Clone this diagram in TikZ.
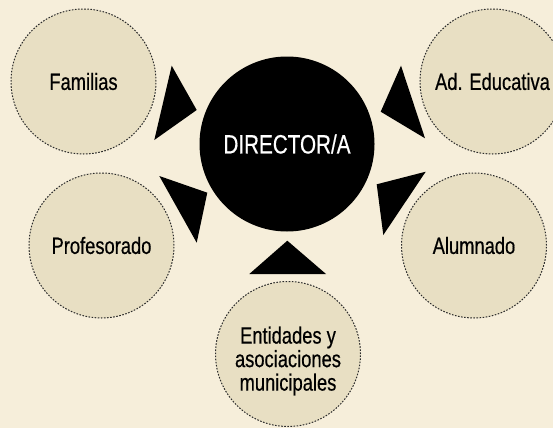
\documentclass[tikz,border=0pt]{standalone}
\usepackage{fontspec}
\setmainfont{Liberation Sans}[FakeStretch=0.78,FakeBold=0.5]
\definecolor{bgcol}{HTML}{F6EEDA}
\definecolor{circfill}{HTML}{E8DFC3}
\definecolor{rimcol}{HTML}{2A2A2A}
\begin{document}
\begin{tikzpicture}[x=1pt,y=-1pt,
  outer/.style={circle,minimum size=145pt,inner sep=0pt,fill=circfill,draw=rimcol,
    line width=1pt,dash pattern=on 1.6pt off 1.5pt},
  lbl/.style={font=\fontsize{23.5}{23.5}\selectfont,text=black,align=center,inner sep=0pt},
  dirnode/.style={circle,minimum size=175pt,inner sep=0pt,fill=black,text=white,
    font=\fontsize{26.5}{28}\selectfont},
  wedge/.style={fill=black}]
\useasboundingbox (0,0) rectangle (553,428);
\fill[bgcol] (0,0) rectangle (553,428);
% centre
\node[dirnode] (dir) at (287,144) {DIRECTOR/A};
% outer circles
\node[outer] (fam) at (83.5,81.5) {};
\node[lbl] (famt) at (fam.center) {Familias};
\node[outer] (ade) at (492.5,81.5) {};
\node[lbl] (adet) at (ade.center) {Ad. Educativa};
\node[outer] (pro) at (101.5,245.5) {};
\node[lbl] (prot) at (pro.center) {Profesorado};
\node[outer] (alu) at (474,245.5) {};
\node[lbl] (alut) at (alu.center) {Alumnado};
\node[outer] (ent) at (288,354) {};
\node[lbl] (entt) at (288,361) {Entidades y\\asociaciones\\municipales};
% wedges
\fill[wedge] (171.7,65.7) -- (196.7,110) -- (154.3,140) -- cycle;
\fill[wedge] (159.3,176) -- (207.3,192.7) -- (196.7,242.7) -- cycle;
\fill[wedge] (249.3,274) -- (287.3,240.7) -- (326,274) -- cycle;
\fill[wedge] (401,65.7) -- (380.7,111.7) -- (425,138.3) -- cycle;
\fill[wedge] (376.7,184.3) -- (425.7,171.7) -- (383.3,235) -- cycle;
\end{tikzpicture}
\end{document}
